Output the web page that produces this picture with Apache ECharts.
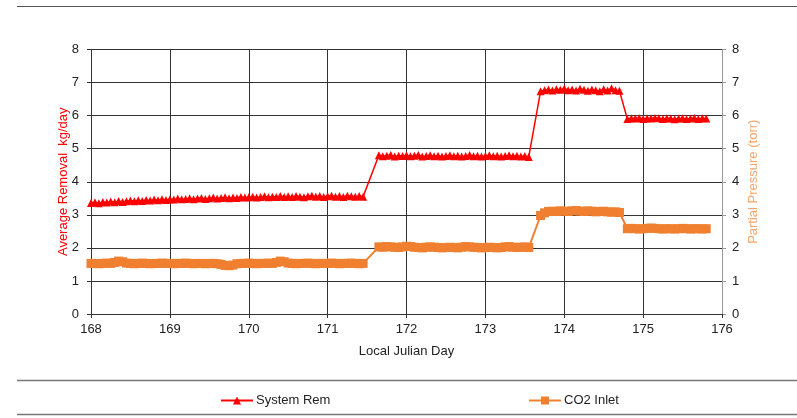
<!DOCTYPE html>
<html>
<head>
<meta charset="utf-8">
<script src="https://cdn.jsdelivr.net/npm/echarts@6/dist/echarts.min.js"></script>
<style>html,body{margin:0;padding:0;background:#fff}#c{width:797px;height:418px}</style>
</head>
<body>
<div id="c"></div>
<script>
// Local Julian Day sample times
const days = [
168.00,168.05,168.10,168.15,168.20,168.25,168.30,168.35,168.40,168.45,
168.50,168.55,168.60,168.65,168.70,168.75,168.80,168.85,168.90,168.95,
169.00,169.05,169.10,169.15,169.20,169.25,169.30,169.35,169.40,169.45,
169.50,169.55,169.60,169.65,169.70,169.75,169.80,169.85,169.90,169.95,
170.00,170.05,170.10,170.15,170.20,170.25,170.30,170.35,170.40,170.45,
170.50,170.55,170.60,170.65,170.70,170.75,170.80,170.85,170.90,170.95,
171.00,171.05,171.10,171.15,171.20,171.25,171.30,171.35,171.40,171.45,
171.65,171.70,171.75,171.80,171.85,171.90,171.95,172.00,172.05,172.10,
172.15,172.20,172.25,172.30,172.35,172.40,172.45,172.50,172.55,172.60,
172.65,172.70,172.75,172.80,172.85,172.90,172.95,173.00,173.05,173.10,
173.15,173.20,173.25,173.30,173.35,173.40,173.45,173.50,173.55,
173.70,173.75,173.80,173.85,173.90,173.95,174.00,174.05,174.10,174.15,
174.20,174.25,174.30,174.35,174.40,174.45,174.50,174.55,174.60,174.65,174.70,
174.80,174.85,174.90,174.95,175.00,175.05,175.10,175.15,175.20,175.25,
175.30,175.35,175.40,175.45,175.50,175.55,175.60,175.65,175.70,175.75,175.80
];
// System Rem (kg/day), left axis
const systemRem = [
3.36,3.38,3.35,3.39,3.37,3.40,3.38,3.42,3.39,3.41,
3.43,3.41,3.44,3.42,3.45,3.43,3.46,3.44,3.47,3.45,
3.47,3.46,3.49,3.47,3.48,3.50,3.47,3.49,3.51,3.48,
3.50,3.52,3.49,3.51,3.53,3.50,3.52,3.51,3.54,3.52,
3.53,3.55,3.52,3.54,3.56,3.53,3.55,3.54,3.57,3.54,
3.56,3.54,3.57,3.55,3.53,3.56,3.58,3.55,3.57,3.54,
3.56,3.58,3.55,3.57,3.54,3.58,3.56,3.55,3.57,3.55,
4.80,4.77,4.79,4.81,4.76,4.79,4.78,4.80,4.77,4.79,
4.81,4.76,4.78,4.80,4.77,4.79,4.76,4.78,4.80,4.77,
4.79,4.76,4.78,4.81,4.77,4.79,4.76,4.78,4.80,4.77,
4.79,4.76,4.78,4.80,4.77,4.79,4.76,4.78,4.75,
6.74,6.77,6.79,6.76,6.80,6.78,6.82,6.77,6.79,6.76,
6.81,6.78,6.75,6.79,6.77,6.74,6.80,6.76,6.83,6.77,6.75,
5.90,5.92,5.91,5.93,5.90,5.92,5.91,5.93,5.92,5.90,
5.92,5.91,5.89,5.91,5.92,5.90,5.91,5.93,5.90,5.92,5.91
];
// CO2 Inlet partial pressure (torr), right axis
const co2Inlet = [
1.53,1.53,1.52,1.53,1.54,1.53,1.56,1.60,1.58,1.54,
1.53,1.52,1.53,1.54,1.53,1.52,1.53,1.53,1.54,1.53,
1.53,1.52,1.53,1.53,1.54,1.53,1.52,1.53,1.53,1.52,
1.53,1.53,1.52,1.50,1.47,1.46,1.48,1.52,1.53,1.53,
1.54,1.53,1.52,1.53,1.53,1.54,1.53,1.56,1.60,1.58,
1.54,1.53,1.52,1.53,1.53,1.54,1.53,1.52,1.53,1.53,
1.53,1.54,1.53,1.52,1.53,1.53,1.54,1.53,1.52,1.53,
2.03,2.02,2.04,2.03,2.02,2.01,2.03,2.05,2.04,2.02,
2.01,2.00,2.02,2.03,2.02,2.01,2.00,2.01,2.02,2.01,
2.00,2.02,2.04,2.03,2.02,2.01,2.00,2.01,2.02,2.01,
2.00,2.01,2.03,2.04,2.02,2.01,2.02,2.03,2.01,
2.98,3.06,3.10,3.11,3.10,3.12,3.11,3.10,3.12,3.13,
3.11,3.10,3.12,3.11,3.09,3.10,3.11,3.09,3.08,3.09,3.07,
2.58,2.59,2.58,2.57,2.58,2.59,2.60,2.59,2.58,2.57,
2.58,2.58,2.57,2.58,2.59,2.58,2.57,2.58,2.58,2.57,2.58
];
const xTicks = [168,169,170,171,172,173,174,175,176];
const yTicks = [0,1,2,3,4,5,6,7,8];

const RED = '#FF0000', ORANGE = '#F08030';
const font = 'Liberation Sans, Arial, sans-serif';

const chart = echarts.init(document.getElementById('c'), null, {renderer: 'canvas'});
chart.setOption({
  animation: false,
  backgroundColor: '#fff',
  textStyle: {fontFamily: font},
  grid: {left: 91, right: 75, top: 49.5, bottom: 104, containLabel: false},
  legend: [
    {data: ['System Rem'], left: 215, top: 389, itemWidth: 32, itemHeight: 10, itemGap: 0,
     textStyle: {fontSize: 13, color: '#222', fontFamily: font, padding: [0,0,0,-2]}},
    {data: ['CO2 Inlet'], left: 523, top: 389, itemWidth: 32, itemHeight: 10, itemGap: 0,
     textStyle: {fontSize: 13, color: '#222', fontFamily: font, padding: [0,0,0,-2]}}
  ],
  xAxis: {
    type: 'value', min: xTicks[0], max: xTicks[xTicks.length-1], interval: 1,
    name: 'Local Julian Day', nameLocation: 'middle', nameGap: 31, nameMoveOverlap: false,
    nameTextStyle: {fontSize: 13, color: '#222', fontFamily: font},
    axisLine: {show: true, lineStyle: {color: '#333', width: 1}},
    axisTick: {show: true, length: 4, inside: false, lineStyle: {color: '#333'}},
    axisLabel: {fontSize: 13, color: '#222', margin: 9, fontFamily: font},
    splitLine: {show: true, lineStyle: {color: '#333', width: 1}}
  },
  yAxis: [
    {
      type: 'value', min: yTicks[0], max: yTicks[yTicks.length-1], interval: 1, position: 'left',
      name: 'Average Removal  kg/day', nameLocation: 'middle', nameGap: 21, nameRotate: 90,
      nameMoveOverlap: false,
      nameTextStyle: {fontSize: 13, color: RED, fontFamily: font},
      axisLine: {show: true, lineStyle: {color: '#333', width: 1}},
      axisTick: {show: true, length: 4, lineStyle: {color: '#333'}},
      axisLabel: {fontSize: 13, color: '#222', margin: 12, fontFamily: font},
      splitLine: {show: true, lineStyle: {color: '#333', width: 1}}
    },
    {
      type: 'value', min: yTicks[0], max: yTicks[yTicks.length-1], interval: 1, position: 'right',
      name: 'Partial Pressure (torr)', nameLocation: 'middle', nameGap: 25, nameRotate: 90,
      nameMoveOverlap: false,
      nameTextStyle: {fontSize: 13, color: '#F4A66A', fontFamily: font},
      axisLine: {show: true, lineStyle: {color: '#999', width: 1}},
      axisTick: {show: true, length: 4, lineStyle: {color: '#999'}},
      axisLabel: {fontSize: 13, color: '#222', margin: 10, fontFamily: font},
      splitLine: {show: false}
    }
  ],
  series: [
    {
      name: 'System Rem', type: 'line', yAxisIndex: 0,
      data: days.map((d, i) => [d, systemRem[i]]),
      symbol: 'triangle', symbolSize: 8, showAllSymbol: true,
      lineStyle: {color: RED, width: 1.5},
      itemStyle: {color: RED, borderWidth: 0},
      z: 3
    },
    {
      name: 'CO2 Inlet', type: 'line', yAxisIndex: 1,
      data: days.map((d, i) => [d, co2Inlet[i]]),
      symbol: 'rect', symbolSize: 9, showAllSymbol: true,
      lineStyle: {color: ORANGE, width: 2},
      itemStyle: {color: ORANGE, borderWidth: 0},
      z: 2
    }
  ],
  graphic: [
    {type: 'line', shape: {x1: 17, y1: 6.5, x2: 797, y2: 6.5}, style: {stroke: '#555', lineWidth: 1}},
    {type: 'line', shape: {x1: 17, y1: 380.5, x2: 797, y2: 380.5}, style: {stroke: '#777', lineWidth: 1.5}},
    {type: 'line', shape: {x1: 17, y1: 414.5, x2: 797, y2: 414.5}, style: {stroke: '#777', lineWidth: 1.5}}
  ]
});
</script>
</body>
</html>
